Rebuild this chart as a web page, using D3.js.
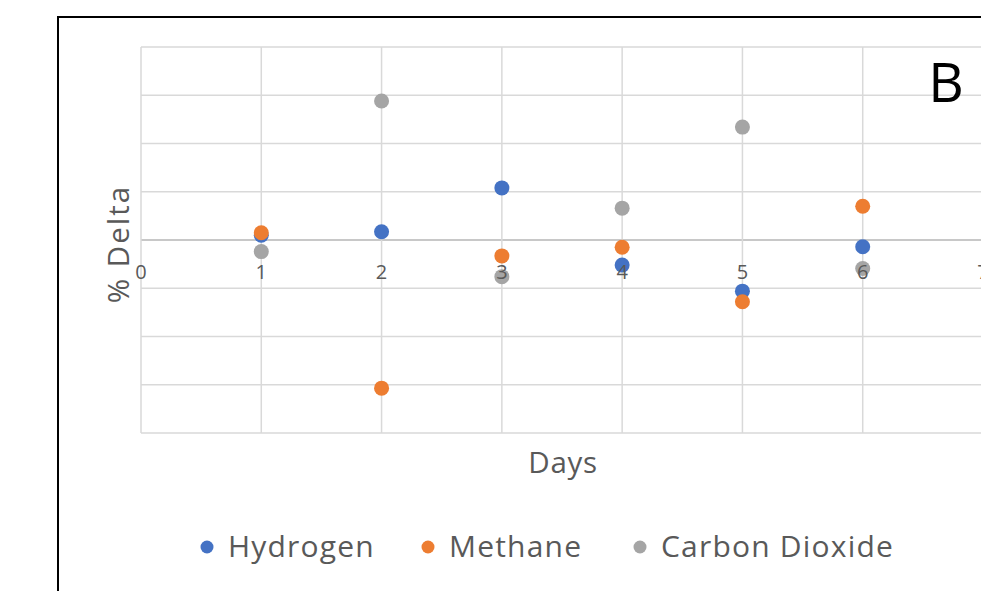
<!DOCTYPE html>
<html><head><meta charset="utf-8">
<script src="https://cdn.jsdelivr.net/npm/d3@7"></script>
<style>body{margin:0;background:#fff;overflow:hidden}svg{display:block}</style>
</head><body>
<svg id="c" width="981" height="591"></svg>
<script>
const days = [1, 2, 3, 4, 5, 6];
const hydrogen = [0.10, 0.17, 1.08, -0.52, -1.06, -0.14];
const methane = [0.15, -3.07, -0.33, -0.15, -1.28, 0.70];
const carbonDioxide = [-0.24, 2.88, -0.76, 0.66, 2.34, -0.59];
const seriesNames = ["Hydrogen", "Methane", "Carbon Dioxide"];
const seriesColors = ["#4472C4", "#ED7D31", "#A5A5A5"];
const xTicks = [0, 1, 2, 3, 4, 5, 6, 7];
const yTicks = [-4, -3, -2, -1, 0, 1, 2, 3, 4];

const series = [hydrogen, methane, carbonDioxide];
const svg = d3.select("#c");
const font = "'Open Sans', 'Liberation Sans', sans-serif";

// outer frame
svg.append("rect").attr("x", 58).attr("y", 17).attr("width", 1000).attr("height", 700)
  .attr("fill", "none").attr("stroke", "#000").attr("stroke-width", 2);

const x = d3.scaleLinear().domain([0, 7]).range([141, 983]);
const y = d3.scaleLinear().domain([-4, 4]).range([433, 47]);

// grid
const g = svg.append("g");
g.selectAll(".hg").data(yTicks).join("line")
  .attr("x1", x(0)).attr("x2", x(7)).attr("y1", d => y(d)).attr("y2", d => y(d))
  .attr("stroke", d => d === 0 ? "#C8C8C8" : "#D9D9D9").attr("stroke-width", d => d === 0 ? 2 : 1.5);
g.selectAll(".vg").data(xTicks).join("line")
  .attr("x1", d => x(d)).attr("x2", d => x(d)).attr("y1", y(4)).attr("y2", y(-4))
  .attr("stroke", "#D9D9D9").attr("stroke-width", 1.5);

// points
series.forEach((s, i) => {
  svg.append("g").selectAll("circle").data(days.map((d, j) => [d, s[j]])).join("circle")
    .attr("cx", d => x(d[0])).attr("cy", d => y(d[1])).attr("r", 7.5)
    .attr("fill", seriesColors[i]);
});

// x tick labels (drawn over the points, as in the reference)
svg.append("g").selectAll("text").data(xTicks).join("text")
  .attr("x", d => x(d)).attr("y", y(0) + 39)
  .attr("text-anchor", "middle").attr("font-family", font).attr("font-size", 20)
  .attr("fill", "#595959").text(d => d);

// axis titles
svg.append("text").attr("transform", `translate(129,244) rotate(-90)`)
  .attr("text-anchor", "middle").attr("font-family", font).attr("font-size", 29.5)
  .attr("letter-spacing", 2).attr("fill", "#595959").text("% Delta");
svg.append("text").attr("x", 563).attr("y", 473).attr("text-anchor", "middle")
  .attr("font-family", font).attr("font-size", 29.5).attr("letter-spacing", 0.7)
  .attr("fill", "#595959").text("Days");

// panel label
svg.append("text").attr("x", 946).attr("y", 102).attr("text-anchor", "middle")
  .attr("font-family", font).attr("font-size", 55).attr("fill", "#000").text("B");

// legend
const legX = [207, 428, 640];
const lg = svg.append("g");
seriesNames.forEach((n, i) => {
  lg.append("circle").attr("cx", legX[i]).attr("cy", 547).attr("r", 6.5).attr("fill", seriesColors[i]);
  lg.append("text").attr("x", legX[i] + 21).attr("y", 557).attr("font-family", font)
    .attr("font-size", 30).attr("letter-spacing", 1.2).attr("fill", "#595959").text(n);
});
</script>
</body></html>
